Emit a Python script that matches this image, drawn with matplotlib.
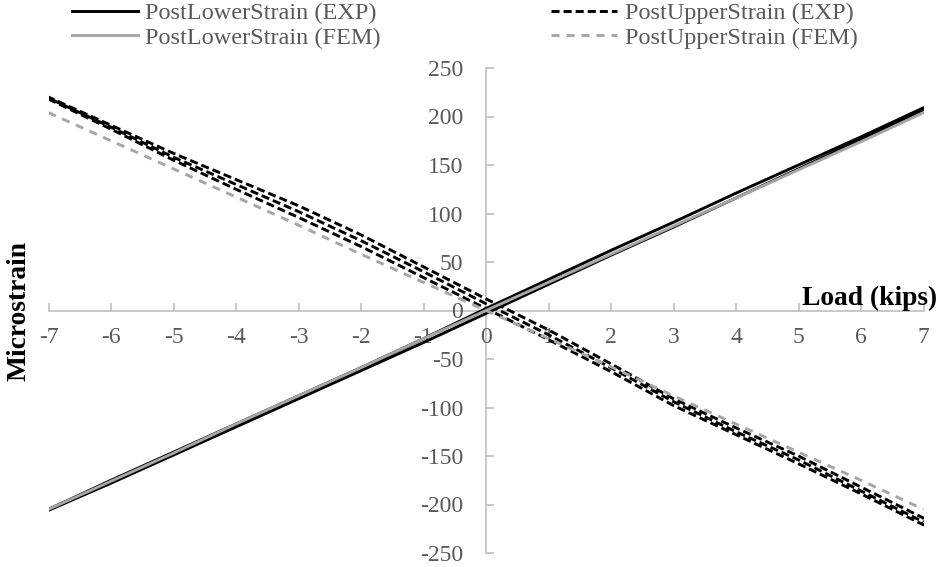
import matplotlib
matplotlib.use("Agg")
import matplotlib.pyplot as plt

plt.rcParams["font.family"] = ["Liberation Serif", "DejaVu Serif"]
plt.rcParams["axes.unicode_minus"] = False
plt.rcParams["lines.scale_dashes"] = False

# Load steps (kips) at which the strain readings are listed
load_kips = [-7, -6, -5, -4, -3, -2, -1, 0, 1, 2, 3, 4, 5, 6, 7]

# Lower post gauge, experiment: loading branch and unloading branch
lower_exp_loading = [-206, -178, -149, -120, -91, -62, -33, -3, 27, 57, 86, 116, 146, 176, 207]
lower_exp_unloading = [-205, -175, -146, -117, -88, -59, -29, 2, 32, 62, 91, 121, 150, 179, 209]
# Lower post gauge, finite element model
lower_fem = [-205, -176, -147, -117, -88, -59, -29, 0, 29, 58, 87, 116, 145, 174, 204]

# Upper post gauge, experiment: two load cycles
upper_exp_cycle1_loading = [218, 187, 155, 125, 96, 66, 34, 2, -30, -63, -98, -128, -158, -189, -221]
upper_exp_cycle1_unloading = [220, 191, 162, 135, 108, 78, 45, 12, -20, -55, -91, -121, -150, -182, -214]
upper_exp_cycle2_loading = [219, 189, 158, 130, 102, 72, 40, 7, -25, -59, -94, -125, -154, -186, -218]
# Upper post gauge, finite element model
upper_fem = [204, 175, 146, 117, 88, 58, 29, 0, -29, -58, -88, -117, -146, -175, -205]

y_ticks = [-250, -200, -150, -100, -50, 0, 50, 100, 150, 200, 250]
x_ticks = load_kips

BLACK = "#000000"
GRAY = "#a6a6a6"
AXIS = "#bfbfbf"
TEXT = "#595959"

fig = plt.figure(figsize=(9.4, 5.67), dpi=100)
ax = fig.add_axes([48.5 / 940, 1 - 553 / 567, 875 / 940, 485 / 567])

lw = 2.1
rev = load_kips[::-1]

# Experimental lower gauge: up the loading branch, back down the unloading branch
ax.plot(load_kips + rev, lower_exp_loading + lower_exp_unloading[::-1],
        color=BLACK, lw=lw, solid_joinstyle="round", zorder=3,
        label="PostLowerStrain (EXP)")
# Experimental upper gauge: cycle 1 loading, unloading, then cycle 2 loading
ax.plot(load_kips + rev + load_kips,
        upper_exp_cycle1_loading + upper_exp_cycle1_unloading[::-1] + upper_exp_cycle2_loading,
        color=BLACK, lw=lw, dashes=(5.8, 2.9), zorder=3,
        label="PostUpperStrain (EXP)")
ax.plot(load_kips, lower_fem, color=GRAY, lw=lw, zorder=3,
        label="PostLowerStrain (FEM)")
ax.plot(load_kips, upper_fem, color=GRAY, lw=lw, dashes=(5.8, 5.0), zorder=3,
        label="PostUpperStrain (FEM)")

ax.set_xlim(-7, 7)
ax.set_ylim(-250, 250)
ax.set_xticks(x_ticks)
ax.set_yticks(y_ticks)

for side in ("top", "right"):
    ax.spines[side].set_visible(False)
for side in ("left", "bottom"):
    ax.spines[side].set_position(("data", 0))
    ax.spines[side].set_color(AXIS)
    ax.spines[side].set_linewidth(1.2)
    ax.spines[side].set_zorder(1)

ax.tick_params(direction="in", length=6, width=1.2, color=AXIS,
               labelcolor=TEXT, labelsize=17)
ax.tick_params(axis="x", pad=12)
ax.tick_params(axis="y", pad=16.5)

fig.text(19 / 940, 1 - 311 / 567, "Microstrain", rotation=90, ha="center",
         va="center", fontsize=19.8, fontweight="bold", color="black")
fig.text(937 / 940, 1 - 305 / 567, "Load (kips)", ha="right", va="baseline",
         fontsize=19.8, fontweight="bold", color="black")

handles, labels = ax.get_legend_handles_labels()
order = [0, 2, 1, 3]
leg = fig.legend([handles[i] for i in order], [labels[i] for i in order],
                 ncol=2, loc="upper left", bbox_to_anchor=(72 / 940, 1 - 2 / 567),
                 frameon=False, fontsize=17.5, borderpad=0, borderaxespad=0,
                 handlelength=2.7, handletextpad=0.32, columnspacing=7.0,
                 labelspacing=0.12, labelcolor=TEXT)

fig.savefig("out.png", dpi=100)
